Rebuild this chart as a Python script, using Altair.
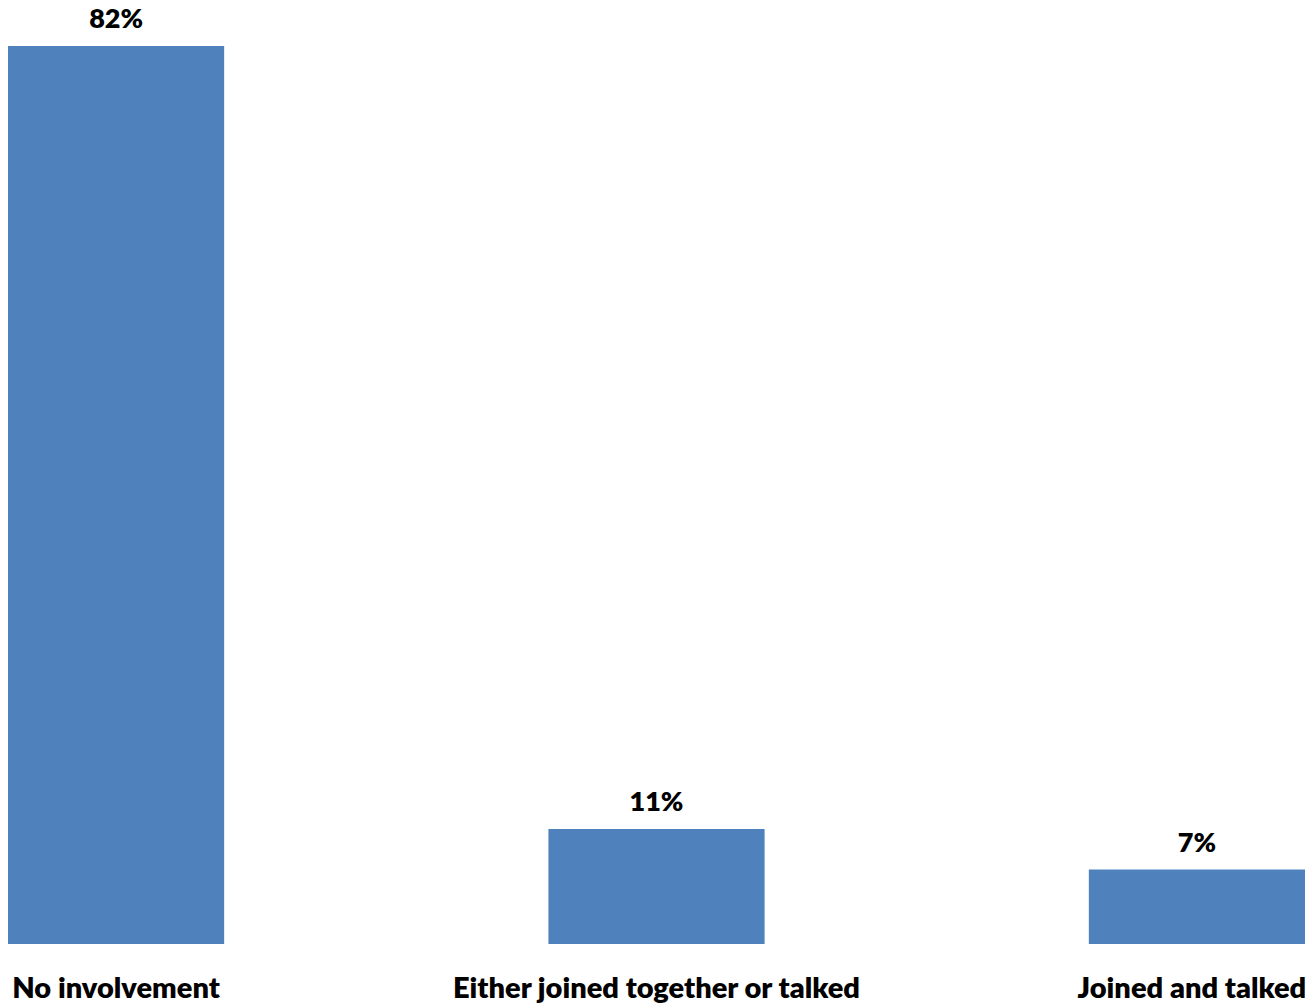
import altair as alt
import pandas as pd

categories = ["No involvement", "Either joined together or talked", "Joined and talked"]
values = [82.0, 10.5, 6.8]
labels = ["82%", "11%", "7%"]

df = pd.DataFrame({"cat": categories, "val": values, "lab": labels})

FONT = "Lato"

x = alt.X("cat:N", sort=categories, title=None,
          scale=alt.Scale(paddingInner=0.6, paddingOuter=0),
          axis=alt.Axis(labelAngle=0, ticks=False, domain=False, labelFont=FONT,
                        labelFontSize=29, labelFontWeight=800, labelColor="#000000",
                        labelBaseline="alphabetic", labelPadding=53, labelLimit=0,
                        labelOffset=alt.condition("datum.value == 'Joined and talked'",
                                                  alt.value(-5), alt.value(0))))
y = alt.Y("val:Q", title=None, scale=alt.Scale(domain=[0, 84.92], nice=False),
          axis=None)

bars = alt.Chart(df).mark_bar(color="#4F81BD").encode(x=x, y=y)
text = alt.Chart(df).mark_text(font=FONT, fontSize=27, fontWeight=800, color="#000000",
                               baseline="alphabetic", dy=-18).encode(x=x, y=y, text="lab:N")

chart = (bars + text).properties(
    width=1297, height=930,
    autosize=alt.AutoSizeParams(type="none"),
    padding={"left": 0, "top": 6, "right": 0, "bottom": 60},
).configure_view(stroke=None).configure_axis(grid=False)

chart.save("out.html", embed_options={"renderer": "svg", "actions": False})
